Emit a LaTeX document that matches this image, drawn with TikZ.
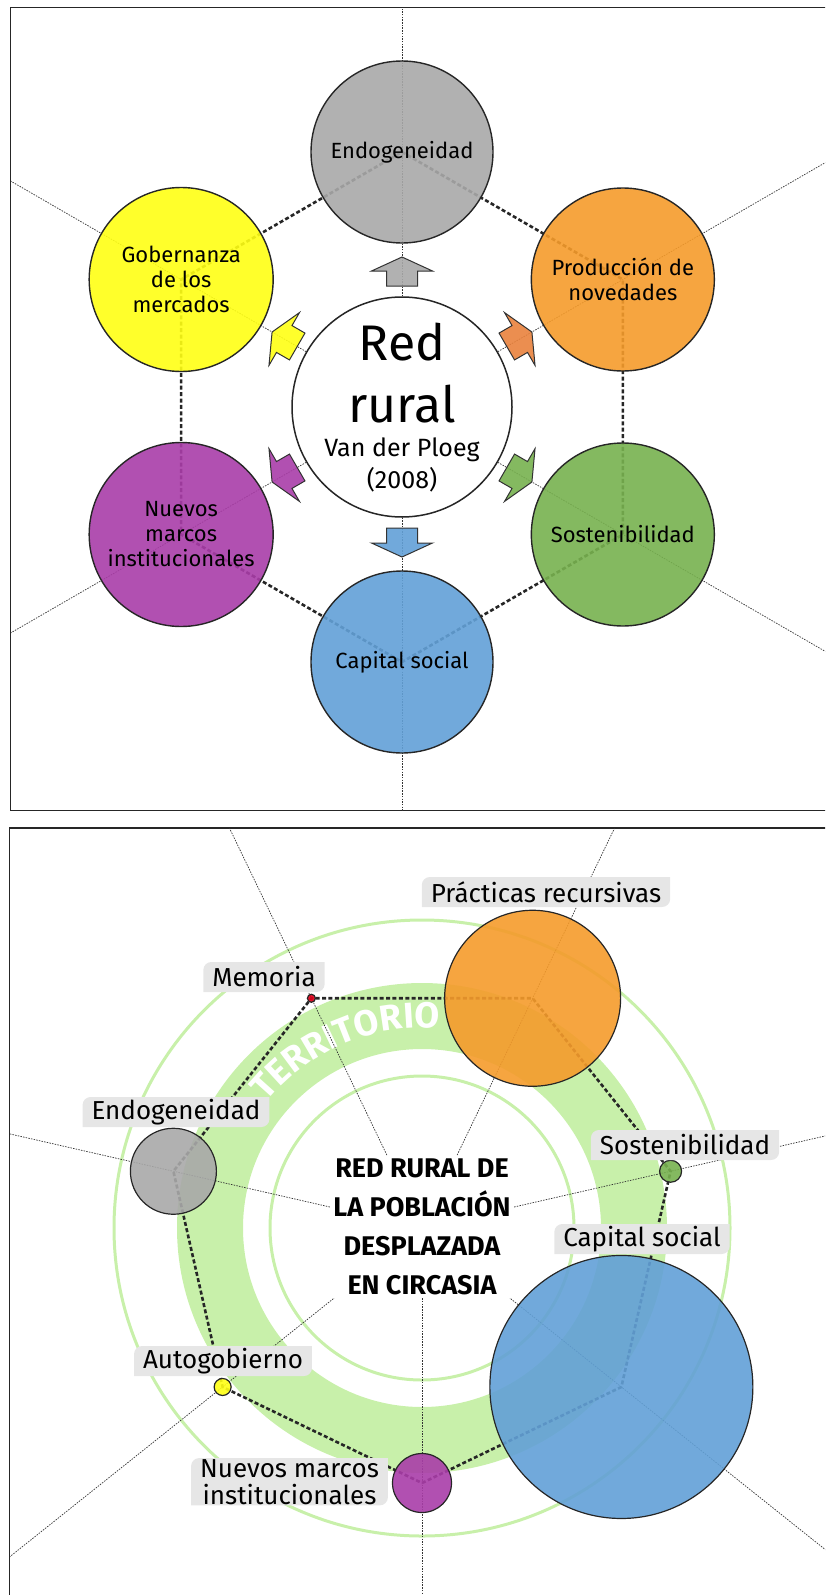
\documentclass[tikz,border=0pt]{standalone}
\usepackage{fontspec}
\setmainfont{Fira Sans}
\usepackage{tikz}
\usepackage{xcolor}
\usetikzlibrary{decorations.text}

\definecolor{cgray}{HTML}{A8A8A8}
\definecolor{cyellow}{HTML}{FFFF14}
\definecolor{corange}{HTML}{F59B2B}
\definecolor{corangedk}{HTML}{E9823D}
\definecolor{cpurple}{HTML}{A93DA8}
\definecolor{cgreen}{HTML}{77B14F}
\definecolor{cblue}{HTML}{62A0D7}
\definecolor{cred}{HTML}{E2001A}
\definecolor{lgreen}{HTML}{C8F0AA}
\definecolor{tagfill}{HTML}{E6E6E6}

\tikzset{
  panel/.style={draw=black!85, line width=1.4pt},
  spoke/.style={black!80, line width=0.7pt, dash pattern=on 1.5pt off 1.2pt},
  polyedge/.style={black!85, line width=2.6pt, dash pattern=on 4pt off 2.4pt},
  bubble/.style={circle, draw=black!85, line width=1.4pt, fill opacity=0.9, text opacity=1,
    inner sep=0pt, align=center, font=\fontsize{22}{25}\selectfont},
  dot/.style={circle, draw=black!85, line width=1.2pt, fill opacity=0.9, inner sep=0pt},
  pics/push/.style={code={
    \filldraw[draw=black!80, line width=1pt, fill opacity=0.9, fill=#1, line join=miter]
      (-14,-15.5) -- (1,-15.5) -- (1,-30.5) -- (15,0) -- (1,30.5) -- (1,15.5)
      -- (-14,15.5) -- cycle;}},
  ring/.style={draw=lgreen, line width=3pt},
  tag/.style={inner xsep=9pt, inner ysep=1pt, minimum height=30pt, align=center,
    font=\fontsize{26}{27}\selectfont,
    path picture={\fill[tagfill]
      (path picture bounding box.south west)
      -- ([yshift=-8pt]path picture bounding box.north west)
      arc[start angle=180, end angle=90, radius=8pt]
      -- (path picture bounding box.north east)
      -- ([yshift=8pt]path picture bounding box.south east)
      arc[start angle=0, end angle=-90, radius=8pt] -- cycle;}}
}

\begin{document}
\begin{tikzpicture}[x=1pt,y=1pt]
  \useasboundingbox (0,0) rectangle (825,-1595);
  \clip (0,0) rectangle (825,-1595);
  % centres of both panels
  \coordinate (c1) at (402,-407);
  \coordinate (c2) at (422,-1228);

  % ===== upper panel =====
  \draw[panel] (10.5,-7.5) rectangle (840,-810.5);
  \begin{scope}
    \clip (10.5,-7.5) rectangle (840,-810.5);
    \foreach \a in {30,90,...,330}
      \draw[spoke] (c1) -- ([shift={(\a:700)}]c1);
  \end{scope}
  % hexagon
  \coordinate (pendo) at ([shift={(90:255)}]c1);
  \coordinate (pprod) at ([shift={(30:255)}]c1);
  \coordinate (psos) at ([shift={(-30:255)}]c1);
  \coordinate (pcap) at ([shift={(-90:255)}]c1);
  \coordinate (pnue) at ([shift={(-150:255)}]c1);
  \coordinate (pgob) at ([shift={(150:255)}]c1);
  \draw[polyedge] (pendo) -- (pprod) -- (psos) -- (pcap) -- (pnue) -- (pgob) -- cycle;
  % satellites
  \node[bubble, fill=cgray, minimum size=182pt] (endo) at (pendo) {Endogeneidad};
  \node[bubble, fill=corange, minimum size=183pt] (prod) at (pprod) {Producción de\\novedades};
  \node[bubble, fill=cgreen, minimum size=183pt] (sos) at (psos) {Sostenibilidad};
  \node[bubble, fill=cblue, minimum size=182pt] (cap) at (pcap) {Capital social};
  \node[bubble, fill=cpurple, minimum size=184pt] (nue) at (pnue) {Nuevos\\marcos\\institucionales};
  \node[bubble, fill=cyellow, minimum size=184pt] (gob) at (pgob) {Gobernanza\\de los\\mercados};
  % centre
  \node[circle, draw=black!85, line width=1.5pt, fill=white, minimum size=220pt] (red) at (c1) {};
  \node[anchor=base, font=\fontsize{50}{50}\selectfont] (redtxt) at (402,-360.7) {Red};
  \node[anchor=base, font=\fontsize{50}{50}\selectfont] (ruraltxt) at (402,-422) {rural};
  \node[anchor=base, font=\fontsize{25}{25}\selectfont] (autortxt) at (402,-456) {Van der Ploeg};
  \node[anchor=base, font=\fontsize{25}{25}\selectfont] (yeartxt) at (402,-488) {(2008)};
  % arrows
  \pic[rotate=90] (aendo) at ([shift={(90:135)}]c1) {push=cgray};
  \pic[rotate=30] (aprod) at ([shift={(30:135)}]c1) {push=corangedk};
  \pic[rotate=-30] (asos) at ([shift={(-30:135)}]c1) {push=cgreen};
  \pic[rotate=-90] (acap) at ([shift={(-90:135)}]c1) {push=cblue};
  \pic[rotate=-150] (anue) at ([shift={(-150:135)}]c1) {push=cpurple};
  \pic[rotate=150] (agob) at ([shift={(150:135)}]c1) {push=cyellow};

  % ===== lower panel =====
  \draw[panel] (9.5,-828) rectangle (840,-1610);
  % territory rings
  \draw[ring] (c2) circle[radius=152];
  \draw[draw=lgreen, line width=66pt] (c2) circle[radius=212];
  \draw[ring] (c2) circle[radius=308];
  \path[decorate, decoration={text along path, text align=center,
      text={|\fontsize{36}{36}\selectfont\bfseries\color{white}|TERRITORIO}}]
    ([shift={(157:200)}]c2) arc[start angle=157, end angle=69, radius=200];
  \begin{scope}
    \clip (9.5,-828) rectangle (840,-1610);
    \foreach \a in {-90,-38.57,12.86,64.29,115.71,167.14,218.57}
      \draw[spoke] (c2) -- ([shift={(\a:800)}]c2);
  \end{scope}
  % heptagon
  \coordinate (qnue) at ([shift={(-90:255)}]c2);
  \coordinate (qcap) at ([shift={(-38.57:255)}]c2);
  \coordinate (qsos) at ([shift={(12.86:255)}]c2);
  \coordinate (qprac) at ([shift={(64.29:255)}]c2);
  \coordinate (qmem) at ([shift={(115.71:255)}]c2);
  \coordinate (qendo) at ([shift={(167.14:255)}]c2);
  \coordinate (qaut) at ([shift={(218.57:255)}]c2);
  \draw[polyedge] (qnue) -- (qcap) -- (qsos) -- (qprac) -- (qmem) -- (qendo) -- (qaut) -- cycle;
  % nodes of the network
  \node[dot, fill=cpurple, minimum size=59pt] (nue2) at (qnue) {};
  \node[dot, fill=cblue, minimum size=263pt] (cap2) at (qcap) {};
  \node[dot, fill=cgreen, minimum size=22pt] (sos2) at (qsos) {};
  \node[dot, fill=corange, minimum size=176pt] (prac) at (qprac) {};
  \node[dot, fill=cred, minimum size=8pt] (mem) at (qmem) {};
  \node[dot, fill=cgray, minimum size=86pt] (endo2) at (qendo) {};
  \node[dot, fill=cyellow, minimum size=17pt] (aut) at (qaut) {};
  % title
  \node[fill=white, inner sep=3pt, align=center, font=\bfseries\fontsize{27}{39}\selectfont]
    (title) at (422,-1227) {RED RURAL DE\\LA POBLACIÓN\\DESPLAZADA\\EN CIRCASIA};
  % labels
  \node[tag] (tprac) at (546,-892) {Prácticas recursivas};
  \node[tag] (tmem) at (264,-977) {Memoria};
  \node[tag] (tendo) at (176,-1112) {Endogeneidad};
  \node[tag] (tsos) at (685,-1145) {Sostenibilidad};
  \node[tag] (tcap) at (642,-1239) {Capital social};
  \node[tag] (taut) at (223,-1361) {Autogobierno};
  \node[tag] (tnue) at (289.5,-1481.7) {Nuevos marcos\\institucionales};
\end{tikzpicture}
\end{document}
